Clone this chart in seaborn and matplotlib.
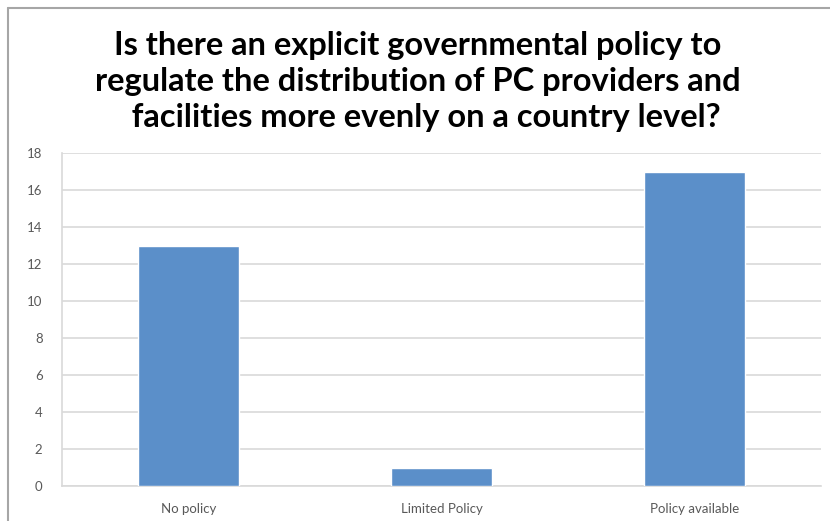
import matplotlib
matplotlib.use("Agg")
import matplotlib.pyplot as plt
import seaborn as sns
import pandas as pd

categories = ["No policy", "Limited Policy", "Policy available"]
values = [13, 1, 17]
yticks = [0, 2, 4, 6, 8, 10, 12, 14, 16, 18]
title_lines = ["Is there an explicit governmental policy to",
               "regulate the distribution of PC providers and",
               "  facilities more evenly on a country level?"]

sns.set_theme(style="white")
plt.rcParams['font.family'] = ['Lato', 'DejaVu Sans']

df = pd.DataFrame({"cat": categories, "val": values})

fig = plt.figure(figsize=(8.30, 5.21), dpi=100)
ax = fig.add_axes([62/830, 1-486/521, (821-62)/830, (486-153)/521])
sns.barplot(data=df, x="cat", y="val", color="#5B8FC9", saturation=1, width=0.4, ax=ax, zorder=3)
ax.set_ylim(0, 18)
ax.set_yticks(yticks)
ax.set_yticklabels([str(t) for t in yticks])
ax.yaxis.grid(True, color="#D9D9D9", linewidth=1.2, zorder=0)
ax.set_axisbelow(True)
for s in ["top", "right"]:
    ax.spines[s].set_visible(False)
for s in ["left", "bottom"]:
    ax.spines[s].set_color("#D9D9D9")
    ax.spines[s].set_linewidth(1.2)
ax.set_xlabel("")
ax.set_ylabel("")
ax.tick_params(axis="both", length=0, labelsize=9.5, labelcolor="#595959")
ax.tick_params(axis="y", pad=14)
ax.tick_params(axis="x", pad=12)

ys = [45, 82, 117]
for line, y in zip(title_lines, ys):
    fig.text(418/830, 1-y/521, line, ha="center", va="center", fontsize=23.5,
             fontweight="bold", color="#000000")

# outer chart frame
fig.add_artist(plt.Line2D([8/830, 1], [1-8/521, 1-8/521], color="#A6A6A6", linewidth=1.5, transform=fig.transFigure))
fig.add_artist(plt.Line2D([8/830, 8/830], [0, 1-8/521], color="#A6A6A6", linewidth=1.5, transform=fig.transFigure))

fig.savefig("out.png", dpi=100)
